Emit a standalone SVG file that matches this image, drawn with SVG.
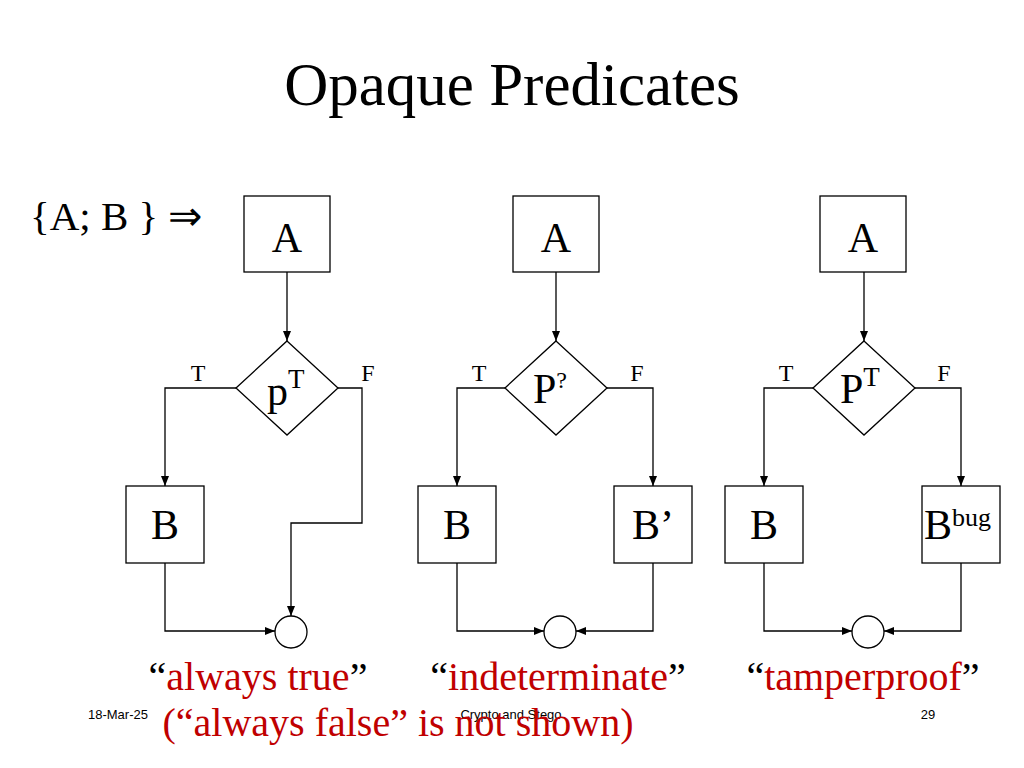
<svg xmlns="http://www.w3.org/2000/svg" width="1024" height="768" viewBox="0 0 1024 768">
<defs>
<style>
.s{fill:#fff;stroke:#000;stroke-width:1.3}
.l{fill:none;stroke:#000;stroke-width:1.3;marker-end:url(#a)}
.t{font-family:"Liberation Serif",serif;fill:#000}
.r{font-family:"Liberation Serif",serif;fill:#c00000;font-size:40px}
.f{font-family:"Liberation Sans",sans-serif;font-size:13px}
</style>
<marker id="a" markerWidth="10" markerHeight="8" refX="10" refY="4" orient="auto" markerUnits="userSpaceOnUse"><path d="M0,0L10,4L0,8z"/></marker>
</defs>
<rect width="1024" height="768" fill="#fff"/>
<text class="t" x="512" y="105" font-size="61" text-anchor="middle">Opaque Predicates</text>
<text class="t" x="30" y="230" font-size="41">{A; B } ⇒</text>
<g id="connectors">
<path class="l" d="M287,272V341"/><path class="l" d="M236,388H165V486"/><path class="l" d="M338,388H362V523H291V616"/><path class="l" d="M165,563V631H275"/>
<path class="l" d="M556,272V341"/><path class="l" d="M505,388H457V486"/><path class="l" d="M607,388H653V486"/><path class="l" d="M457,563V631H544"/><path class="l" d="M653,563V631H576"/>
<path class="l" d="M864,272V341"/><path class="l" d="M813,388H764V486"/><path class="l" d="M915,388H961V486"/><path class="l" d="M764,563V631H852"/><path class="l" d="M961,563V631H884"/>
</g>
<g class="t" font-size="24"><text x="198" y="381" text-anchor="middle">T</text><text x="368" y="381" text-anchor="middle">F</text><text x="479" y="381" text-anchor="middle">T</text><text x="637" y="381" text-anchor="middle">F</text><text x="786" y="381" text-anchor="middle">T</text><text x="944" y="381" text-anchor="middle">F</text></g>
<g id="A1"><rect class="s" x="244" y="196" width="86" height="76"/><text class="t" x="287" y="252" font-size="42" text-anchor="middle">A</text></g>
<g id="P1"><path class="s" d="M287,341L338,388L287,435L236,388z"/><text class="t" x="267" y="405" font-size="42">p<tspan font-size="27" dy="-17">T</tspan></text></g>
<g id="B1"><rect class="s" x="126" y="486" width="78" height="77"/><text class="t" x="165" y="539" font-size="42" text-anchor="middle">B</text></g>
<g id="J1"><circle class="s" cx="291" cy="632" r="16"/></g>
<g id="A2"><rect class="s" x="513" y="196" width="86" height="76"/><text class="t" x="556" y="252" font-size="42" text-anchor="middle">A</text></g>
<g id="P2"><path class="s" d="M556,341L607,388L556,435L505,388z"/><text class="t" x="533" y="403" font-size="42">P<tspan font-size="24" dy="-15">?</tspan></text></g>
<g id="B2"><rect class="s" x="418" y="486" width="78" height="77"/><text class="t" x="457" y="539" font-size="42" text-anchor="middle">B</text></g>
<g id="B2p"><rect class="s" x="614" y="486" width="78" height="77"/><text class="t" x="653" y="539" font-size="42" text-anchor="middle">B’</text></g>
<g id="J2"><circle class="s" cx="560" cy="632" r="16"/></g>
<g id="A3"><rect class="s" x="820" y="196" width="86" height="76"/><text class="t" x="863" y="252" font-size="42" text-anchor="middle">A</text></g>
<g id="P3"><path class="s" d="M864,341L915,388L864,435L813,388z"/><text class="t" x="840" y="403" font-size="42">P<tspan font-size="27" dy="-17">T</tspan></text></g>
<g id="B3"><rect class="s" x="725" y="486" width="78" height="77"/><text class="t" x="764" y="539" font-size="42" text-anchor="middle">B</text></g>
<g id="B3b"><rect class="s" x="922" y="486" width="78" height="77"/><text class="t" x="924" y="539" font-size="42">B<tspan font-size="26" dy="-13">bug</tspan></text></g>
<g id="J3"><circle class="s" cx="868" cy="632" r="16"/></g>
<text class="r" x="258" y="690" text-anchor="middle"><tspan fill="#000">“</tspan>always true<tspan fill="#000">”</tspan></text>
<text class="r" x="558" y="690" text-anchor="middle"><tspan fill="#000">“</tspan>indeterminate<tspan fill="#000">”</tspan></text>
<text class="r" x="863" y="690" text-anchor="middle"><tspan fill="#000">“</tspan>tamperproof<tspan fill="#000">”</tspan></text>
<text class="f" x="88" y="719">18-Mar-25</text>
<text class="f" x="511" y="719" text-anchor="middle">Crypto and Stego</text>
<text class="f" x="928" y="719" text-anchor="middle">29</text>
<text class="r" x="398" y="736" text-anchor="middle">(“always false” is not shown)</text>
</svg>
